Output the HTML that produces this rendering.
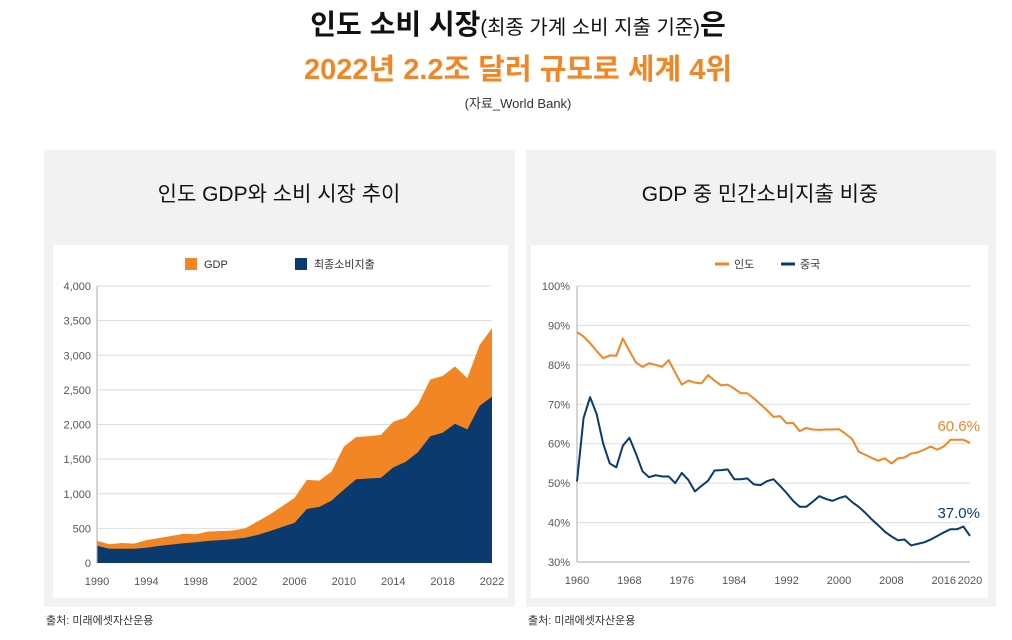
<!DOCTYPE html>
<html><head><meta charset="utf-8"><style>
body{margin:0;background:#fff;width:1012px;height:635px;overflow:hidden}
svg text{font-family:"Liberation Sans","Noto Sans CJK KR",sans-serif}
</style></head><body>
<svg id="s" width="1012" height="635" viewBox="0 0 1012 635" xmlns="http://www.w3.org/2000/svg">
<text x="518" y="34" text-anchor="middle" font-size="28" font-weight="bold" fill="#111">인도 소비 시장<tspan font-size="20" font-weight="normal">(최종 가계 소비 지출 기준)</tspan>은</text>
<text x="518" y="79" text-anchor="middle" font-size="29" font-weight="bold" fill="#f28524">2022년 2.2조 달러 규모로 세계 4위</text>
<text x="518" y="108" text-anchor="middle" font-size="13" fill="#333">(자료_World Bank)</text>

<rect x="44" y="150" width="471" height="457" fill="#f2f2f2"/>
<rect x="53" y="245" width="455" height="353" fill="#fff"/>
<text x="279" y="201" text-anchor="middle" font-size="21" fill="#111">인도 GDP와 소비 시장 추이</text>
<rect x="185" y="258" width="12" height="12" fill="#f28524"/>
<text x="204" y="268" font-size="11" fill="#333">GDP</text>
<rect x="295" y="258" width="12" height="12" fill="#0a3a6e"/>
<text x="314" y="268" font-size="11" fill="#333">최종소비지출</text>
<text x="46" y="624" font-size="11" fill="#333">출처: 미래에셋자산운용</text>
<g id="left"></g>

<rect x="526" y="150" width="470" height="457" fill="#f2f2f2"/>
<rect x="531" y="245" width="457" height="353" fill="#fff"/>
<text x="760" y="201" text-anchor="middle" font-size="21" fill="#111">GDP 중 민간소비지출 비중</text>
<line x1="715" y1="264" x2="729" y2="264" stroke="#f28524" stroke-width="3"/>
<text x="734" y="268" font-size="11" fill="#333">인도</text>
<line x1="781" y1="264" x2="795" y2="264" stroke="#0a3a6e" stroke-width="3"/>
<text x="800" y="268" font-size="11" fill="#333">중국</text>
<text x="528" y="624" font-size="11" fill="#333">출처: 미래에셋자산운용</text>
<g id="right"></g>
</svg>
<script>
const gdpYears=[1990,1991,1992,1993,1994,1995,1996,1997,1998,1999,2000,2001,2002,2003,2004,2005,2006,2007,2008,2009,2010,2011,2012,2013,2014,2015,2016,2017,2018,2019,2020,2021,2022];
const gdpValues=[320,270,288,280,330,360,390,420,415,455,460,470,500,600,700,820,940,1200,1190,1320,1680,1820,1830,1850,2040,2100,2290,2650,2700,2840,2670,3150,3390];
const consValues=[250,205,205,205,220,245,265,285,300,320,330,345,365,405,460,520,580,780,810,900,1060,1210,1220,1230,1380,1460,1600,1830,1880,2010,1930,2270,2400];
const leftYTicks=[0,500,1000,1500,2000,2500,3000,3500,4000];
const leftXTicks=[1990,1994,1998,2002,2006,2010,2014,2018,2022];

const shareYears=[];for(let y=1960;y<=2020;y++)shareYears.push(y);
const india=[88.3,87.2,85.5,83.5,81.7,82.4,82.3,86.7,83.5,80.6,79.5,80.4,80,79.5,81.2,78,75,76,75.5,75.3,77.4,76,74.8,75,74,72.8,72.8,71.5,70,68.5,66.8,67,65.2,65.3,63.2,64,63.6,63.5,63.6,63.6,63.7,62.5,61.2,58,57.2,56.4,55.7,56.3,55,56.3,56.5,57.5,57.8,58.5,59.3,58.5,59.3,61,61,61,60.2];
const china=[50.4,66.5,71.8,67.5,60,55,54,59.5,61.5,57.5,53,51.5,52,51.7,51.7,50,52.6,50.8,47.9,49.3,50.6,53.2,53.3,53.5,51,51,51.2,49.7,49.5,50.5,51,49.3,47.5,45.5,44,44,45.3,46.7,46,45.5,46.2,46.7,45.2,44,42.5,40.8,39.3,37.7,36.5,35.5,35.7,34.2,34.6,35,35.7,36.6,37.5,38.3,38.3,39,36.6];
const endLabels=['60.6%','37.0%'];
const rightYTicks=[30,40,50,60,70,80,90,100];
const rightXTicks=[1960,1968,1976,1984,1992,2000,2008,2016,2020];

const NS="http://www.w3.org/2000/svg";
function mk(tag,attrs,parent,txt){const e=document.createElementNS(NS,tag);for(const k in attrs)e.setAttribute(k,attrs[k]);if(txt!==undefined)e.textContent=txt;parent.appendChild(e);return e;}

const L=document.getElementById('left');
const lx=y=>97+(y-1990)*(492-97)/32;
const ly=v=>563-v*(563-286)/4000;
leftYTicks.forEach(t=>{
  if(t>0){const g=mk('line',{x1:97,x2:492,y1:ly(t),y2:ly(t),stroke:'#ddd','stroke-width':1},L);
  
  }
  const tx=mk('text',{x:91,y:ly(t)+4,'text-anchor':'end','font-size':11,fill:'#555'},L,t.toLocaleString('en-US'));
  
  
});
function area(vals){let d='M'+lx(gdpYears[0])+','+ly(0);gdpYears.forEach((y,i)=>d+=' L'+lx(y)+','+ly(vals[i]));d+=' L'+lx(gdpYears[gdpYears.length-1])+','+ly(0)+'Z';return d;}
const ga=mk('path',{d:area(gdpValues),fill:'#f28524'},L);


const ca=mk('path',{d:area(consValues),fill:'#0a3a6e'},L);


const lax=mk('line',{x1:97,x2:97,y1:286,y2:563,stroke:'#aaa'},L);


leftXTicks.forEach(t=>{const tx=mk('text',{x:lx(t),y:585,'text-anchor':'middle','font-size':11,fill:'#555'},L,t);
  
  });

const R=document.getElementById('right');
const rx=y=>577+(y-1960)*(970-577)/60;
const ry=v=>562-(v-30)*(562-286)/70;
rightYTicks.forEach(t=>{
  if(t>30){const g=mk('line',{x1:577,x2:970,y1:ry(t),y2:ry(t),stroke:'#ddd','stroke-width':1},R);
  
  }
  const tx=mk('text',{x:570,y:ry(t)+4,'text-anchor':'end','font-size':11,fill:'#555'},R,t+'%');
  
  
});
const rax=mk('line',{x1:577,x2:577,y1:286,y2:562,stroke:'#aaa'},R);


const rbx=mk('line',{x1:577,x2:970,y1:562,y2:562,stroke:'#aaa'},R);


function line(vals){return vals.map((v,i)=>(i?'L':'M')+rx(shareYears[i])+','+ry(v)).join(' ');}
const il=mk('path',{d:line(india),fill:'none',stroke:'#f28524','stroke-width':2,'stroke-linejoin':'round'},R);


const cl=mk('path',{d:line(china),fill:'none',stroke:'#0a3a6e','stroke-width':2,'stroke-linejoin':'round'},R);


rightXTicks.forEach(t=>{const tx=mk('text',{x:rx(t),y:584,'text-anchor':'middle','font-size':11,fill:'#555'},R,t);
  
  });
const il2=mk('text',{x:980,y:ry(india[india.length-1])-12,'text-anchor':'end','font-size':15,fill:'#f28524'},R,endLabels[0]);


const cl2=mk('text',{x:980,y:ry(china[china.length-1])-18,'text-anchor':'end','font-size':15,fill:'#0a3a6e'},R,endLabels[1]);


</script>
</body></html>
